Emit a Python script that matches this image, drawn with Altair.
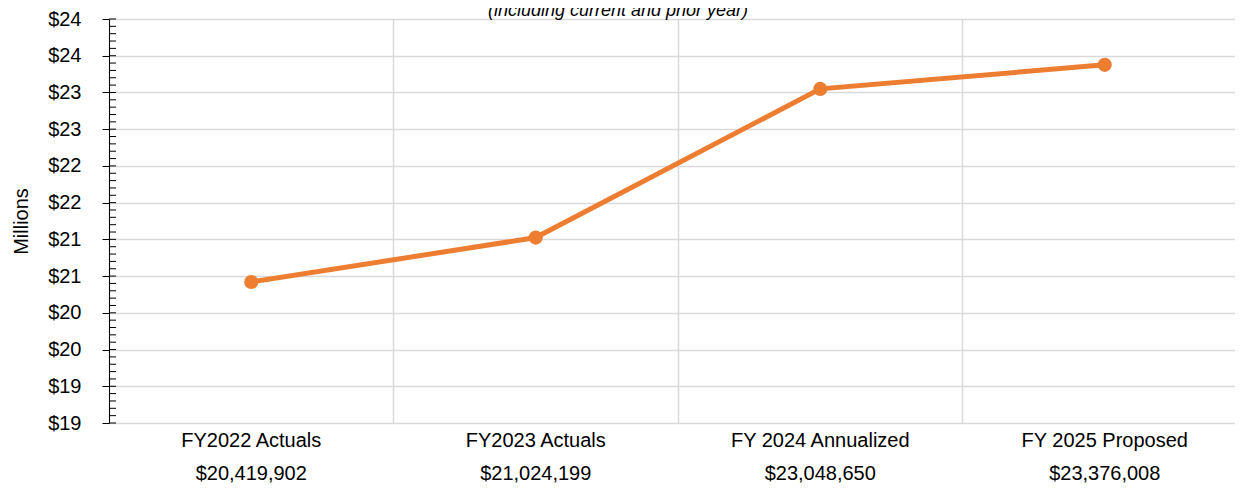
import altair as alt
import pandas as pd

categories = ["FY2022 Actuals", "FY2023 Actuals", "FY 2024 Annualized", "FY 2025 Proposed"]
amounts = [20419902, 21024199, 23048650, 23376008]
y_ticks = [18.5, 19.0, 19.5, 20.0, 20.5, 21.0, 21.5, 22.0, 22.5, 23.0, 23.5, 24.0]
minor_ticks = [round(18.5 + 0.1 * i, 1) for i in range(56)]
subtitle = ["(including current and prior year)"]

FONT = "Liberation Sans, Arial, sans-serif"
ORANGE = "#ED7D31"
GRID = "#d9d9d9"

labels = [f"{c}|${a:,}" for c, a in zip(categories, amounts)]
df = pd.DataFrame({"label": labels, "millions": [a / 1e6 for a in amounts]})
ticks_df = pd.DataFrame({"millions": minor_ticks})
title_df = pd.DataFrame({"text": subtitle})

yscale = alt.Scale(domain=[18.5, 24], nice=False, zero=False)
y_axis = alt.Axis(
    values=y_ticks,
    format="$.0f",
    title="Millions",
    tickSize=7,
    tickColor="black",
    tickWidth=1,
    domainColor="black",
    domainWidth=1,
    labelFontSize=20,
    labelPadding=21,
    labelColor="black",
    labelFont=FONT,
    titleFont=FONT,
    titleFontSize=20,
    titleFontWeight="normal",
    titleColor="black",
    titlePadding=16,
    gridColor=GRID,
    gridWidth=1.5,
)

base = alt.Chart(df).encode(
    x=alt.X(
        "label:N",
        sort=labels,
        scale=alt.Scale(type="band", paddingInner=0, paddingOuter=0, range=[0, 1138]),
        axis=alt.Axis(
            title=None,
            labelExpr="split(datum.label, '|')",
            labelFontSize=20,
            labelLineHeight=33,
            labelPadding=7,
            labelAngle=0,
            labelLimit=0,
            labelColor="black",
            labelFont=FONT,
            labelOverlap=False,
            domain=False,
            ticks=False,
            grid=True,
            bandPosition=0,
            gridColor=GRID,
            gridWidth=1.5,
        ),
    ),
    y=alt.Y("millions:Q", scale=yscale, axis=y_axis),
)

line = base.mark_line(color=ORANGE, strokeWidth=5)
points = base.mark_circle(color=ORANGE, size=200, opacity=1)

minor = alt.Chart(ticks_df).mark_rule(color="black", strokeWidth=1).encode(
    y=alt.Y("millions:Q", scale=yscale, axis=y_axis),
    x=alt.value(0),
    x2=alt.value(7),
)

title_text = alt.Chart(title_df).mark_text(
    font=FONT,
    fontSize=18,
    fontStyle="italic",
    color="black",
    align="center",
    baseline="alphabetic",
).encode(
    text="text:N",
    x=alt.value(509),
    y=alt.value(-3),
)

chart = alt.layer(
    line, points, minor, title_text,
).properties(
    width=1126,
    height=404,
    autosize=alt.AutoSizeParams(type="none"),
    padding={"left": 101, "top": 11, "right": 0, "bottom": 60},
).configure_view(stroke=None).configure(background="white")

chart.save("out.html", embed_options={"renderer": "svg", "actions": False})
